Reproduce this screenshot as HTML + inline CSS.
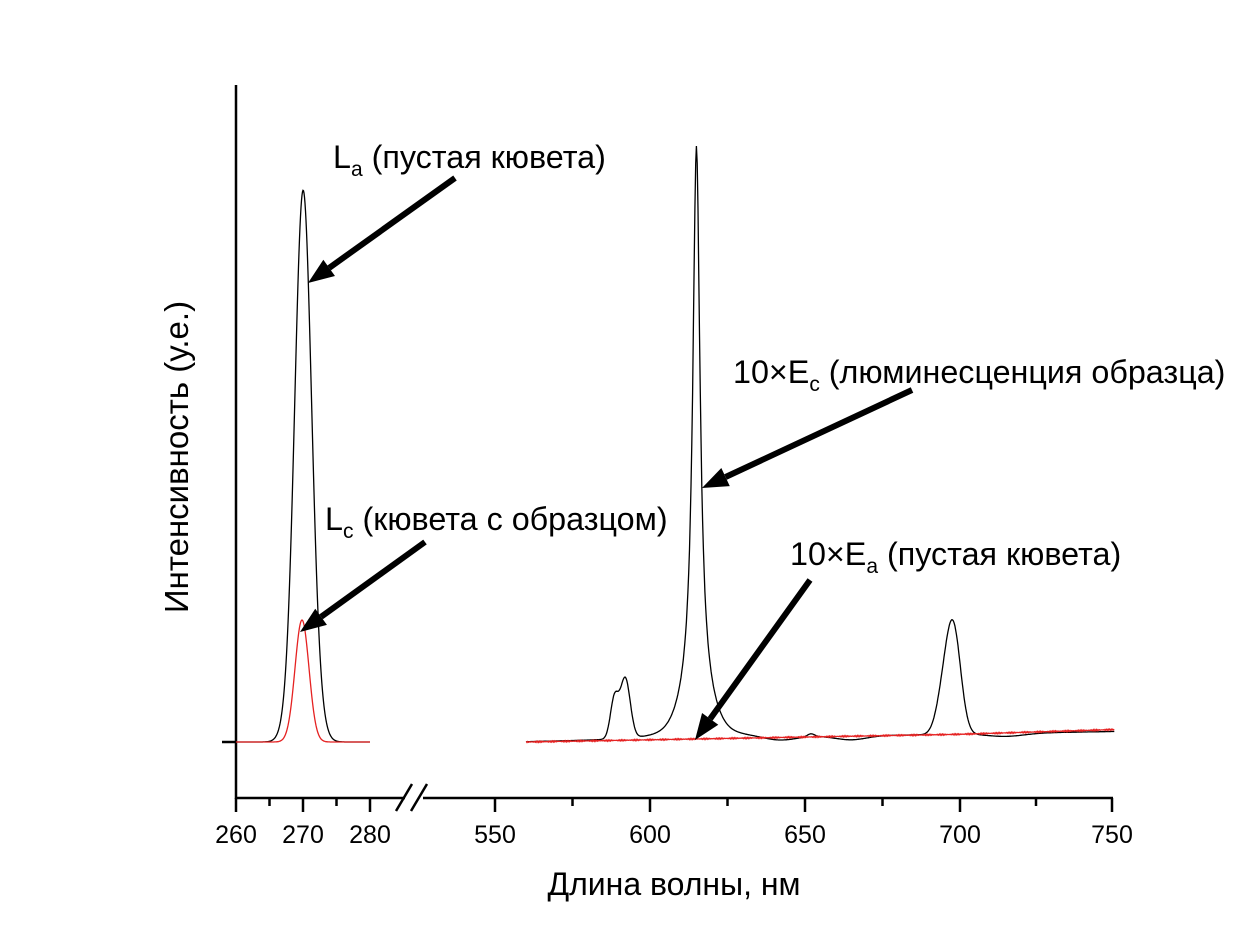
<!DOCTYPE html>
<html><head><meta charset="utf-8"><style>
html,body{margin:0;padding:0;background:#fff;}
svg{display:block;font-family:"Liberation Sans",Arial,sans-serif;}
</style></head><body>
<svg id="s" width="1242" height="933" viewBox="0 0 1242 933" xmlns="http://www.w3.org/2000/svg">
<g stroke="#000" stroke-width="2.5" fill="none">
<line x1="236" y1="85" x2="236" y2="799"/>
<line x1="236" y1="798" x2="405" y2="798"/>
<line x1="423" y1="798" x2="1113" y2="798"/>
<line x1="222" y1="742" x2="236" y2="742"/>
<line x1="236" y1="798" x2="236" y2="812"/>
<line x1="303" y1="798" x2="303" y2="812"/>
<line x1="370" y1="798" x2="370" y2="812"/>
<line x1="269.5" y1="798" x2="269.5" y2="806"/>
<line x1="336.5" y1="798" x2="336.5" y2="806"/>
<line x1="495" y1="798" x2="495" y2="812"/>
<line x1="650" y1="798" x2="650" y2="812"/>
<line x1="805" y1="798" x2="805" y2="812"/>
<line x1="960" y1="798" x2="960" y2="812"/>
<line x1="1112" y1="798" x2="1112" y2="812"/>
<line x1="572.5" y1="798" x2="572.5" y2="806"/>
<line x1="727.5" y1="798" x2="727.5" y2="806"/>
<line x1="882.5" y1="798" x2="882.5" y2="806"/>
<line x1="1036" y1="798" x2="1036" y2="806"/>
<line x1="396" y1="811" x2="412" y2="784"/>
<line x1="411" y1="811" x2="427" y2="784"/>
</g>
<g font-size="25" text-anchor="middle" fill="#000">
<text x="236" y="843">260</text><text x="303" y="843">270</text><text x="370" y="843">280</text>
<text x="495" y="843">550</text><text x="650" y="843">600</text><text x="805" y="843">650</text>
<text x="960" y="843">700</text><text x="1112" y="843">750</text>
</g>
<text x="674" y="895" font-size="32" text-anchor="middle">Длина волны, нм</text>
<text transform="translate(188,457) rotate(-90)" font-size="33" text-anchor="middle">Интенсивность (у.е.)</text>
<g font-size="32.3" fill="#000">
<text x="333" y="168">L<tspan font-size="21" dy="8">a</tspan><tspan dy="-8"> (пустая кювета)</tspan></text>
<text x="733" y="383">10×E<tspan font-size="21" dy="8">c</tspan><tspan dy="-8"> (люминесценция образца)</tspan></text>
<text x="325" y="530">L<tspan font-size="21" dy="8">c</tspan><tspan dy="-8"> (кювета с образцом)</tspan></text>
<text x="790" y="565">10×E<tspan font-size="21" dy="8">a</tspan><tspan dy="-8"> (пустая кювета)</tspan></text>
</g>
<path id="la" fill="none" stroke="#000" stroke-width="1.3"/>
<path id="lc" fill="none" stroke="#e52222" stroke-width="1.3"/>
<path id="ec" fill="none" stroke="#000" stroke-width="1.3"/>
<path id="ea" fill="none" stroke="#e52222" stroke-width="1.3"/>
<g id="arrows"></g>
</svg>
<script>
function g(x,m,s){return Math.exp(-0.5*((x-m)/s)**2);}
var a="",c="";
for(var x=222;x<=370;x+=0.5){
 var ya=742-552*(0.6*g(x,303,7.8)+0.4*g(x,303.5,10));
 var yc=742-122*g(x,302,7);
 a+=(x==222?"M":"L")+x+" "+ya.toFixed(1);
 if(x>=236) c+=(c?"L":"M")+x+" "+yc.toFixed(1);
}
document.getElementById("la").setAttribute("d",a);
document.getElementById("lc").setAttribute("d",c);
function X(l){return 650+(l-600)*3.095;}
function B(l){return 742-(l-560)*0.055;}
var e="",r="";
for(var l=560;l<=750;l+=0.25){
 var h=40*g(l,588.5,1.3)+60*g(l,592,1.6)+553/(1+((l-615)/1.4)**2)+40*g(l,615,4.5)+105*g(l,698,2.4)+30*g(l,694.5,2.2)+3*g(l,652,1.2)-4*g(l,642,5)-4*g(l,665,5)-3*g(l,715,6);
 var xx=X(l).toFixed(1);
 e+=(e?"L":"M")+xx+" "+(B(l)-h).toFixed(1);
 r+=(r?"L":"M")+xx+" "+(B(l)-(l>700?(l-700)*0.04:0)+Math.sin(l*37)*0.6).toFixed(1);
}
document.getElementById("ec").setAttribute("d",e);
document.getElementById("ea").setAttribute("d",r);
function arrow(x1,y1,x2,y2){
 var dx=x2-x1,dy=y2-y1,L=Math.hypot(dx,dy),ux=dx/L,uy=dy/L,hl=26,hw=10;
 var bx=x2-ux*hl,by=y2-uy*hl;
 var s='<line x1="'+x1+'" y1="'+y1+'" x2="'+bx+'" y2="'+by+'" stroke="#000" stroke-width="6"/>';
 s+='<polygon fill="#000" points="'+x2+','+y2+' '+(bx-uy*hw)+','+(by+ux*hw)+' '+(bx+uy*hw)+','+(by-ux*hw)+'"/>';
 return s;
}
document.getElementById("arrows").innerHTML=arrow(455,178,308,283)+arrow(425,542,300,632)+arrow(912,390,702,488)+arrow(810,580,695,740);
</script>
</body></html>
